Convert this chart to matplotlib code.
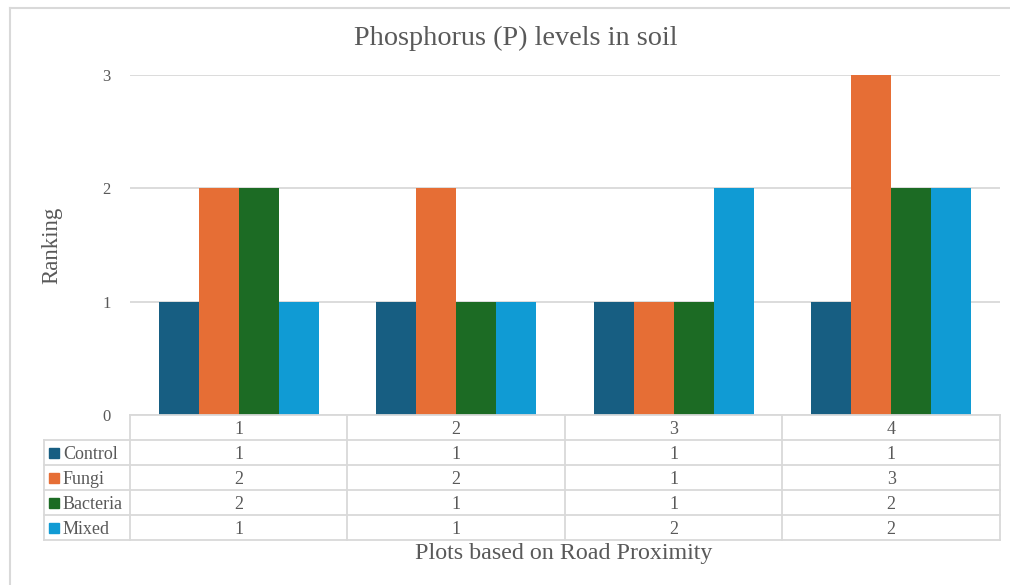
import matplotlib.pyplot as plt
import numpy as np
from matplotlib.lines import Line2D

plt.rcParams['font.family'] = ['Liberation Serif', 'DejaVu Serif']

plots = ['1', '2', '3', '4']
series = ['Control', 'Fungi', 'Bacteria', 'Mixed']
control = [1, 1, 1, 1]
fungi = [2, 2, 1, 3]
bacteria = [2, 1, 1, 2]
mixed = [1, 1, 2, 2]
colors = ['#175e82', '#e66e35', '#1c6b24', '#109bd4']

values = [control, fungi, bacteria, mixed]
text_c = '#595959'
line_c = '#d9d9d9'

W, H = 1010, 585
fig = plt.figure(figsize=(W / 100, H / 100), dpi=100)

# main plot area in pixels: x 130..1000, y 75..415
ax = fig.add_axes([130 / W, (H - 415) / H, 870 / W, 340 / H])
x = np.arange(len(plots))
bw = 40 / 217.5
for k, (vals, c) in enumerate(zip(values, colors)):
    ax.bar(x + (k - 1.5) * bw, vals, width=bw, color=c, zorder=3)

ax.set_xlim(-0.5, 3.5)
ax.set_ylim(0, 3)
ax.set_yticks([0, 1, 2, 3])
ax.set_xticks([])
ax.yaxis.grid(True, color=line_c, lw=1.3, zorder=0)
for s in ax.spines.values():
    s.set_visible(False)
ax.tick_params(axis='y', length=0, pad=14, labelsize=12, labelcolor=text_c)

# data table under the bars
left_px = 44
tax = fig.add_axes([left_px / W, (H - 540) / H, (1000 - left_px) / W, 125 / H])
xl = -0.5 - (130 - left_px) / 217.5
tax.set_xlim(xl, 3.5)
tax.set_ylim(0, 5)
tax.axis('off')
lkw = dict(color=line_c, lw=1.3, clip_on=False)
tax.plot([-0.5, 3.5], [5, 5], **lkw)
for yy in range(5):
    tax.plot([xl, 3.5], [yy, yy], **lkw)
for xx in np.arange(-0.5, 4, 1):
    tax.plot([xx, xx], [0, 5], **lkw)
tax.plot([xl, xl], [0, 4], **lkw)

tkw = dict(va='center_baseline', fontsize=13, color=text_c)
for i, p in enumerate(plots):
    tax.text(i, 4.5, p, ha='center', **tkw)
for r, (name, vals, c) in enumerate(zip(series, values, colors)):
    yc = 3.5 - r
    tax.plot(xl + 10.5 / 217.5, yc, 's', ms=6.5, color=c, clip_on=False)
    tax.text(xl + 19 / 217.5, yc, name, ha='left', **tkw)
    for i, v in enumerate(vals):
        tax.text(i, yc, str(v), ha='center', **tkw)

fig.text(516 / W, 1 - 38 / H, 'Phosphorus (P) levels in soil', ha='center', va='center',
         fontsize=20.3, color=text_c)
fig.text(52 / W, 1 - 245 / H, 'Ranking', ha='center', va='center', rotation=90,
         fontsize=16.5, color=text_c)
fig.text(564 / W, 1 - 553 / H, 'Plots based on Road Proximity', ha='center', va='center',
         fontsize=17.3, color=text_c)

# chart frame
fig.add_artist(Line2D([10 / W, 10 / W], [0, 1 - 8 / H], transform=fig.transFigure, color=line_c, lw=1.5))
fig.add_artist(Line2D([10 / W, 1], [1 - 8 / H, 1 - 8 / H], transform=fig.transFigure, color=line_c, lw=1.5))

fig.savefig('out.png', dpi=100)
